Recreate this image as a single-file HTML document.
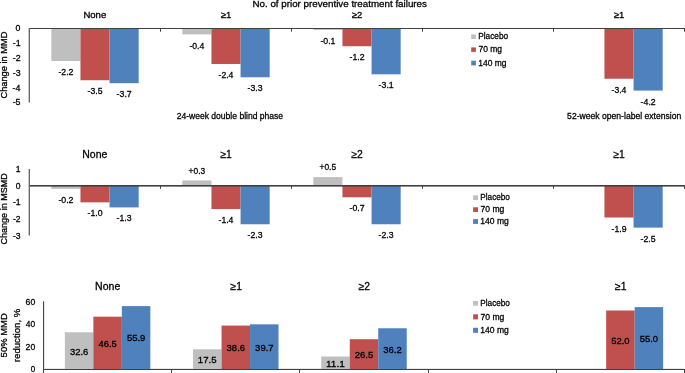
<!DOCTYPE html>
<html><head><meta charset="utf-8"><style>
html,body{margin:0;padding:0;background:#fff;}
svg{display:block;}
text{font-family:"Liberation Sans",sans-serif;stroke:#000;stroke-width:0.3px;}
.t{opacity:0.999;will-change:transform;}
</style></head><body>
<svg width="685" height="373" viewBox="0 0 685 373">
<rect width="685" height="373" fill="#fff"/>
<g class="t">
<rect x="51.33" y="29.00" width="29.11" height="32.02" fill="#BFBFBF"/>
<rect x="80.44" y="29.00" width="29.11" height="51.23" fill="#C0504D"/>
<rect x="109.56" y="29.00" width="29.11" height="54.19" fill="#4F81BD"/>
<rect x="182.33" y="29.00" width="29.11" height="5.41" fill="#BFBFBF"/>
<rect x="211.44" y="29.00" width="29.11" height="34.97" fill="#C0504D"/>
<rect x="240.56" y="29.00" width="29.11" height="48.27" fill="#4F81BD"/>
<rect x="313.33" y="29.00" width="29.11" height="0.98" fill="#BFBFBF"/>
<rect x="342.44" y="29.00" width="29.11" height="17.24" fill="#C0504D"/>
<rect x="371.56" y="29.00" width="29.11" height="45.32" fill="#4F81BD"/>
<rect x="604.44" y="29.00" width="29.11" height="49.75" fill="#C0504D"/>
<rect x="633.56" y="29.00" width="29.11" height="61.58" fill="#4F81BD"/>
<rect x="29.00" y="28.00" width="656.00" height="1.00" fill="#404040"/>
<rect x="29.00" y="28.00" width="1.00" height="3.70" fill="#404040"/>
<rect x="160.00" y="28.00" width="1.00" height="3.70" fill="#404040"/>
<rect x="291.00" y="28.00" width="1.00" height="3.70" fill="#404040"/>
<rect x="422.00" y="28.00" width="1.00" height="3.70" fill="#404040"/>
<rect x="553.00" y="28.00" width="1.00" height="3.70" fill="#404040"/>
<rect x="684.00" y="28.00" width="1.00" height="3.70" fill="#404040"/>
<text transform="translate(58.40,75.12) scale(0.9709,1)" font-size="9.0" fill="#000000">-2.2</text>
<text transform="translate(87.51,94.33) scale(0.9650,1)" font-size="9.0" fill="#000000">-3.5</text>
<text transform="translate(116.62,97.29) scale(0.9709,1)" font-size="9.0" fill="#000000">-3.7</text>
<text transform="translate(189.40,48.51) scale(0.9591,1)" font-size="9.0" fill="#000000">-0.4</text>
<text transform="translate(218.51,78.07) scale(0.9591,1)" font-size="9.0" fill="#000000">-2.4</text>
<text transform="translate(247.62,91.37) scale(0.9680,1)" font-size="9.0" fill="#000000">-3.3</text>
<text transform="translate(320.40,44.08) scale(0.9709,1)" font-size="9.0" fill="#000000">-0.1</text>
<text transform="translate(349.51,60.34) scale(0.9709,1)" font-size="9.0" fill="#000000">-1.2</text>
<text transform="translate(378.62,88.42) scale(0.9709,1)" font-size="9.0" fill="#000000">-3.1</text>
<text transform="translate(611.51,92.85) scale(0.9591,1)" font-size="9.0" fill="#000000">-3.4</text>
<text transform="translate(640.62,104.68) scale(0.9709,1)" font-size="9.0" fill="#000000">-4.2</text>
<rect x="28.00" y="28.00" width="1.00" height="74.50" fill="#c8c8c8"/>
<rect x="29.00" y="28.00" width="1.00" height="74.50" fill="#686868"/>
<text transform="translate(83.38,17.80) scale(1.0414,1)" font-size="9.2" fill="#000000">None</text>
<text transform="translate(220.87,17.80) scale(1.0286,1)" font-size="9.2" fill="#000000">≥1</text>
<text transform="translate(351.87,17.80) scale(1.0286,1)" font-size="9.2" fill="#000000">≥2</text>
<text transform="translate(613.87,17.80) scale(1.0286,1)" font-size="9.2" fill="#000000">≥1</text>
<text transform="translate(15.62,31.40) scale(1.0000,1)" font-size="8.8" fill="#000000">0</text>
<text transform="translate(12.76,46.18) scale(1.0000,1)" font-size="8.8" fill="#000000">-1</text>
<text transform="translate(12.76,60.96) scale(1.0000,1)" font-size="8.8" fill="#000000">-2</text>
<text transform="translate(12.71,75.74) scale(1.0000,1)" font-size="8.8" fill="#000000">-3</text>
<text transform="translate(12.58,90.52) scale(1.0000,1)" font-size="8.8" fill="#000000">-4</text>
<text transform="translate(12.67,105.30) scale(1.0000,1)" font-size="8.8" fill="#000000">-5</text>
<text transform="translate(252.47,6.90) scale(0.9994,1)" font-size="9.8" fill="#000000">No. of prior preventive treatment failures</text>
<text transform="translate(176.72,119.00) scale(0.9502,1)" font-size="9.0" fill="#000000">24-week double blind phase</text>
<text transform="translate(567.11,119.20) scale(0.9560,1)" font-size="9.0" fill="#000000">52-week open-label extension</text>
<text transform="translate(7.00,98.56) rotate(-90) scale(0.9862,1)" font-size="9.4" fill="#000000">Change in MMD</text>
<rect x="471.20" y="34.40" width="4.70" height="4.60" fill="#BFBFBF"/>
<text transform="translate(478.19,39.30) scale(0.9220,1)" font-size="9.0" fill="#000000">Placebo</text>
<rect x="471.20" y="47.40" width="4.70" height="4.50" fill="#C0504D"/>
<text transform="translate(478.43,52.20) scale(0.9423,1)" font-size="9.0" fill="#000000">70 mg</text>
<rect x="471.20" y="60.70" width="4.70" height="4.70" fill="#4F81BD"/>
<text transform="translate(478.21,65.70) scale(0.9424,1)" font-size="9.0" fill="#000000">140 mg</text>
<rect x="51.33" y="186.00" width="29.11" height="2.87" fill="#BFBFBF"/>
<rect x="80.44" y="186.00" width="29.11" height="16.35" fill="#C0504D"/>
<rect x="109.56" y="186.00" width="29.11" height="21.41" fill="#4F81BD"/>
<rect x="182.33" y="180.44" width="29.11" height="4.56" fill="#BFBFBF"/>
<rect x="211.44" y="186.00" width="29.11" height="23.09" fill="#C0504D"/>
<rect x="240.56" y="186.00" width="29.11" height="38.25" fill="#4F81BD"/>
<rect x="313.33" y="177.07" width="29.11" height="7.93" fill="#BFBFBF"/>
<rect x="342.44" y="186.00" width="29.11" height="11.29" fill="#C0504D"/>
<rect x="371.56" y="186.00" width="29.11" height="38.25" fill="#4F81BD"/>
<rect x="604.44" y="186.00" width="29.11" height="31.51" fill="#C0504D"/>
<rect x="633.56" y="186.00" width="29.11" height="41.62" fill="#4F81BD"/>
<rect x="29.00" y="185.00" width="656.00" height="1.00" fill="#404040"/>
<rect x="29.00" y="185.00" width="1.00" height="3.80" fill="#404040"/>
<rect x="160.00" y="185.00" width="1.00" height="3.80" fill="#404040"/>
<rect x="291.00" y="185.00" width="1.00" height="3.80" fill="#404040"/>
<rect x="422.00" y="185.00" width="1.00" height="3.80" fill="#404040"/>
<rect x="553.00" y="185.00" width="1.00" height="3.80" fill="#404040"/>
<rect x="684.00" y="185.00" width="1.00" height="3.80" fill="#404040"/>
<text transform="translate(58.40,202.87) scale(0.9709,1)" font-size="9.0" fill="#000000">-0.2</text>
<text transform="translate(87.51,216.35) scale(0.9650,1)" font-size="9.0" fill="#000000">-1.0</text>
<text transform="translate(116.62,221.41) scale(0.9680,1)" font-size="9.0" fill="#000000">-1.3</text>
<text transform="translate(188.57,173.64) scale(0.9338,1)" font-size="9.0" fill="#000000">+0.3</text>
<text transform="translate(218.51,223.09) scale(0.9591,1)" font-size="9.0" fill="#000000">-1.4</text>
<text transform="translate(247.62,238.25) scale(0.9680,1)" font-size="9.0" fill="#000000">-2.3</text>
<text transform="translate(319.57,170.27) scale(0.9313,1)" font-size="9.0" fill="#000000">+0.5</text>
<text transform="translate(349.51,211.29) scale(0.9709,1)" font-size="9.0" fill="#000000">-0.7</text>
<text transform="translate(378.62,238.25) scale(0.9680,1)" font-size="9.0" fill="#000000">-2.3</text>
<text transform="translate(611.51,231.51) scale(0.9680,1)" font-size="9.0" fill="#000000">-1.9</text>
<text transform="translate(640.62,241.62) scale(0.9650,1)" font-size="9.0" fill="#000000">-2.5</text>
<rect x="29.00" y="186.00" width="656.00" height="0.60" fill="#404040"/>
<rect x="28.00" y="169.00" width="1.00" height="66.50" fill="#c8c8c8"/>
<rect x="29.00" y="169.00" width="1.00" height="66.50" fill="#686868"/>
<text transform="translate(82.26,157.60) scale(0.9913,1)" font-size="10.6" fill="#000000">None</text>
<text transform="translate(220.39,157.60) scale(0.9756,1)" font-size="10.6" fill="#000000">≥1</text>
<text transform="translate(351.39,157.60) scale(0.9756,1)" font-size="10.6" fill="#000000">≥2</text>
<text transform="translate(613.39,157.60) scale(0.9756,1)" font-size="10.6" fill="#000000">≥1</text>
<text transform="translate(15.81,171.65) scale(1.0000,1)" font-size="8.6" fill="#000000">1</text>
<text transform="translate(15.72,188.50) scale(1.0000,1)" font-size="8.6" fill="#000000">0</text>
<text transform="translate(12.93,205.35) scale(1.0000,1)" font-size="8.6" fill="#000000">-1</text>
<text transform="translate(12.93,222.20) scale(1.0000,1)" font-size="8.6" fill="#000000">-2</text>
<text transform="translate(12.88,239.05) scale(1.0000,1)" font-size="8.6" fill="#000000">-3</text>
<text transform="translate(7.20,244.45) rotate(-90) scale(0.9608,1)" font-size="9.4" fill="#000000">Change in MSMD</text>
<rect x="473.10" y="195.40" width="4.90" height="4.60" fill="#BFBFBF"/>
<text transform="translate(480.29,200.20) scale(0.9124,1)" font-size="9.0" fill="#000000">Placebo</text>
<rect x="473.10" y="207.30" width="4.90" height="4.70" fill="#C0504D"/>
<text transform="translate(480.52,212.30) scale(0.9506,1)" font-size="9.0" fill="#000000">70 mg</text>
<rect x="473.10" y="219.10" width="4.90" height="4.80" fill="#4F81BD"/>
<text transform="translate(480.31,223.90) scale(0.9494,1)" font-size="9.0" fill="#000000">140 mg</text>
<rect x="44.00" y="368.00" width="640.50" height="1.00" fill="#e8e8e8"/>
<rect x="64.87" y="332.32" width="28.49" height="36.68" fill="#BFBFBF"/>
<rect x="93.36" y="316.69" width="28.49" height="52.31" fill="#C0504D"/>
<rect x="121.84" y="306.11" width="28.49" height="62.89" fill="#4F81BD"/>
<rect x="193.07" y="349.31" width="28.49" height="19.69" fill="#BFBFBF"/>
<rect x="221.56" y="325.57" width="28.49" height="43.43" fill="#C0504D"/>
<rect x="250.04" y="324.34" width="28.49" height="44.66" fill="#4F81BD"/>
<rect x="321.27" y="356.51" width="28.49" height="12.49" fill="#BFBFBF"/>
<rect x="349.76" y="339.19" width="28.49" height="29.81" fill="#C0504D"/>
<rect x="378.24" y="328.27" width="28.49" height="40.73" fill="#4F81BD"/>
<rect x="606.16" y="310.50" width="28.49" height="58.50" fill="#C0504D"/>
<rect x="634.64" y="307.12" width="28.49" height="61.88" fill="#4F81BD"/>
<rect x="43.00" y="369.00" width="642.00" height="1.00" fill="#404040"/>
<rect x="43.00" y="369.00" width="1.00" height="4.00" fill="#404040"/>
<rect x="171.00" y="369.00" width="1.00" height="4.00" fill="#404040"/>
<rect x="299.00" y="369.00" width="1.00" height="4.00" fill="#404040"/>
<rect x="428.00" y="369.00" width="1.00" height="4.00" fill="#404040"/>
<rect x="556.00" y="369.00" width="1.00" height="4.00" fill="#404040"/>
<rect x="684.00" y="369.00" width="1.00" height="4.00" fill="#404040"/>
<text transform="translate(69.93,354.57) scale(0.9857,1)" font-size="9.6" fill="#000000">32.6</text>
<text transform="translate(98.57,346.75) scale(0.9752,1)" font-size="9.6" fill="#000000">46.5</text>
<text transform="translate(126.91,341.46) scale(0.9857,1)" font-size="9.6" fill="#000000">55.9</text>
<text transform="translate(197.79,363.02) scale(1.0018,1)" font-size="9.6" fill="#000000">17.5</text>
<text transform="translate(226.62,351.20) scale(0.9857,1)" font-size="9.6" fill="#000000">38.6</text>
<text transform="translate(255.11,350.58) scale(0.9883,1)" font-size="9.6" fill="#000000">39.7</text>
<text transform="translate(325.95,366.57) scale(1.0506,1)" font-size="9.6" fill="#000000">11.1</text>
<text transform="translate(354.73,358.00) scale(0.9883,1)" font-size="9.6" fill="#000000">26.5</text>
<text transform="translate(383.31,352.55) scale(0.9883,1)" font-size="9.6" fill="#000000">36.2</text>
<text transform="translate(611.22,343.66) scale(0.9830,1)" font-size="9.6" fill="#000000">52.0</text>
<text transform="translate(639.71,341.97) scale(0.9830,1)" font-size="9.6" fill="#000000">55.0</text>
<rect x="43.00" y="301.40" width="1.00" height="71.60" fill="#454545"/>
<rect x="44.00" y="301.40" width="1.00" height="67.60" fill="#e8e8e8"/>
<text transform="translate(95.11,289.90) scale(1.0146,1)" font-size="10.4" fill="#000000">None</text>
<text transform="translate(230.49,289.90) scale(0.9944,1)" font-size="10.4" fill="#000000">≥1</text>
<text transform="translate(358.69,289.90) scale(0.9944,1)" font-size="10.4" fill="#000000">≥2</text>
<text transform="translate(615.09,289.90) scale(0.9944,1)" font-size="10.4" fill="#000000">≥1</text>
<text transform="translate(25.62,304.60) scale(0.9178,1)" font-size="9.4" fill="#000000">60</text>
<text transform="translate(25.84,327.10) scale(0.8959,1)" font-size="9.4" fill="#000000">40</text>
<text transform="translate(25.62,349.60) scale(0.9178,1)" font-size="9.4" fill="#000000">20</text>
<text transform="translate(30.73,372.10) scale(0.8511,1)" font-size="9.4" fill="#000000">0</text>
<text transform="translate(7.00,357.38) rotate(-90) scale(0.9669,1)" font-size="9.8" fill="#000000">50% MMD</text>
<text transform="translate(20.20,362.13) rotate(-90) scale(0.9830,1)" font-size="9.8" fill="#000000">reduction, %</text>
<rect x="473.10" y="301.00" width="4.90" height="4.70" fill="#BFBFBF"/>
<text transform="translate(480.29,306.10) scale(0.9124,1)" font-size="9.0" fill="#000000">Placebo</text>
<rect x="473.10" y="314.30" width="4.90" height="5.10" fill="#C0504D"/>
<text transform="translate(480.52,319.60) scale(0.9506,1)" font-size="9.0" fill="#000000">70 mg</text>
<rect x="473.10" y="327.80" width="4.90" height="5.00" fill="#4F81BD"/>
<text transform="translate(480.31,333.10) scale(0.9494,1)" font-size="9.0" fill="#000000">140 mg</text>
</g>
</svg>
</body></html>
